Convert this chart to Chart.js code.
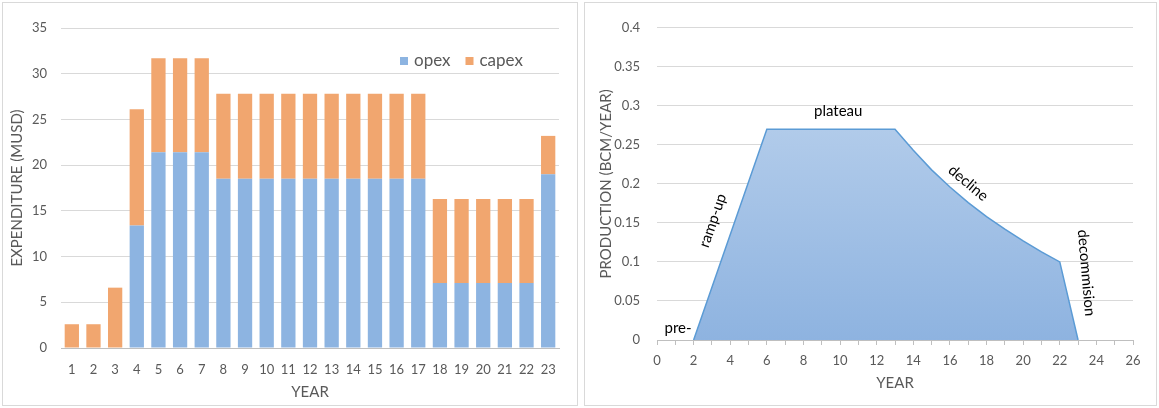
<!DOCTYPE html>
<html>
<head>
<meta charset="utf-8">
<script src="https://cdn.jsdelivr.net/npm/chart.js@4/dist/chart.umd.min.js"></script>
<style>
  html, body { margin: 0; padding: 0; background: #fff; }
  body { width: 1159px; height: 408px; overflow: hidden; position: relative; }
  .panel { position: absolute; top: 2px; height: 402px; border: 1px solid #d9d9d9; }
  #costPanel { left: 2px; width: 574px; }
  #prodPanel { left: 584px; width: 571px; }
  canvas { display: block; }
</style>
</head>
<body>
<div class="panel" id="costPanel"><canvas id="costChart" width="574" height="402"></canvas></div>
<div class="panel" id="prodPanel"><canvas id="prodChart" width="571" height="402"></canvas></div>

<script>
// ---- Expenditure per project year (MUSD) ----
const years = ['1','2','3','4','5','6','7','8','9','10','11','12','13','14','15','16','17','18','19','20','21','22','23'];
const opex  = [0, 0, 0, 13.4, 21.4, 21.4, 21.4, 18.5, 18.5, 18.5, 18.5, 18.5, 18.5, 18.5, 18.5, 18.5, 18.5, 7.1, 7.1, 7.1, 7.1, 7.1, 19.0];
const capex = [2.6, 2.6, 6.6, 12.7, 10.3, 10.3, 10.3, 9.3, 9.3, 9.3, 9.3, 9.3, 9.3, 9.3, 9.3, 9.3, 9.3, 9.2, 9.2, 9.2, 9.2, 9.2, 4.2];
const costTicks = [0, 5, 10, 15, 20, 25, 30, 35];

// ---- Gas production profile (BCM/year) ----
const prodYears  = [2, 6, 13, 14, 15, 16, 17, 18, 19, 20, 21, 22, 23];
const prodValues = [0, 0.27, 0.27, 0.243, 0.218, 0.196, 0.176, 0.158, 0.142, 0.127, 0.113, 0.1, 0];
const prodTicks  = [0, 0.05, 0.1, 0.15, 0.2, 0.25, 0.3, 0.35, 0.4];
const yearTicks  = [0, 2, 4, 6, 8, 10, 12, 14, 16, 18, 20, 22, 24, 26];
const phaseNames = ['pre-', 'ramp-up', 'plateau', 'decline', 'decommision'];

const FONT = 'Lato, "Open Sans", sans-serif';
const GREY_TEXT = '#595959';
const GRID = '#d9d9d9';
const AXIS = '#bfbfbf';

Chart.defaults.font.family = FONT;
Chart.defaults.color = GREY_TEXT;
Chart.defaults.animation = false;

// Legend drawn inside the plot, top right (opex, capex)
const insideLegend = {
  id: 'insideLegend',
  afterDraw(chart) {
    const ctx = chart.ctx;
    ctx.save();
    ctx.font = '17px ' + FONT;
    ctx.textBaseline = 'middle';
    const cy = 58;
    let x = 397;
    const box = 8;
    chart.data.datasets.forEach((ds) => {
      ctx.fillStyle = ds.backgroundColor;
      ctx.fillRect(x, cy - box / 2, box, box);
      x += box + 6;
      ctx.fillStyle = GREY_TEXT;
      ctx.fillText(ds.label, x, cy);
      x += ctx.measureText(ds.label).width + 15;
    });
    ctx.restore();
  }
};

new Chart(document.getElementById('costChart'), {
  type: 'bar',
  data: {
    labels: years,
    datasets: [
      { label: 'opex',  data: opex,  backgroundColor: '#8db4e1' },
      { label: 'capex', data: capex, backgroundColor: '#f1a66f' }
    ]
  },
  options: {
    responsive: false,
    layout: { padding: { top: 25, right: 18, left: 0, bottom: 0 } },
    plugins: { legend: { display: false }, tooltip: { enabled: false } },
    datasets: { bar: { categoryPercentage: 1, barPercentage: 0.66 } },
    scales: {
      x: {
        stacked: true,
        grid: { display: false },
        border: { color: AXIS, width: 1 },
        ticks: { color: GREY_TEXT, font: { size: 13 }, padding: 6, maxRotation: 0, autoSkip: false },
        title: { display: true, text: 'YEAR', color: GREY_TEXT, font: { size: 15 }, padding: { top: 0, bottom: 4 } },
        afterFit(s) { s.height = 57; }
      },
      y: {
        stacked: true,
        min: 0, max: 35,
        afterBuildTicks(s) { s.ticks = costTicks.map(v => ({ value: v })); },
        grid: { color: GRID, drawTicks: false },
        border: { display: false },
        ticks: { color: GREY_TEXT, font: { size: 13 }, padding: 14 },
        title: { display: true, text: 'EXPENDITURE (MUSD)', color: GREY_TEXT, font: { size: 15 }, padding: { top: 5, bottom: 0 } },
        afterFit(s) { s.width = 58; }
      }
    }
  },
  plugins: [insideLegend]
});

// Phase labels placed along the profile, in data coordinates
const phasePlacement = [
  { x: 1.15, y: 0.015, rot: 0 },
  { x: 3.05, y: 0.153, rot: -71 },
  { x: 9.9,  y: 0.293, rot: 0 },
  { x: 17.0, y: 0.201, rot: 40 },
  { x: 23.45, y: 0.086, rot: 85 }
];

const phaseLabels = {
  id: 'phaseLabels',
  afterDatasetsDraw(chart) {
    const ctx = chart.ctx;
    const xs = chart.scales.x, ys = chart.scales.y;
    ctx.save();
    ctx.font = '15px ' + FONT;
    ctx.fillStyle = '#000';
    ctx.textAlign = 'center';
    ctx.textBaseline = 'middle';
    phaseNames.forEach((name, i) => {
      const p = phasePlacement[i];
      ctx.save();
      ctx.translate(xs.getPixelForValue(p.x), ys.getPixelForValue(p.y));
      ctx.rotate(p.rot * Math.PI / 180);
      ctx.fillText(name, 0, 0);
      ctx.restore();
    });
    ctx.restore();
  }
};

new Chart(document.getElementById('prodChart'), {
  type: 'line',
  data: {
    datasets: [{
      label: 'production',
      data: prodYears.map((x, i) => ({ x, y: prodValues[i] })),
      borderColor: '#5b9bd5',
      borderWidth: 1.5,
      pointRadius: 0,
      tension: 0,
      fill: 'origin',
      backgroundColor(ctx) {
        const area = ctx.chart.chartArea;
        if (!area) return '#a4c2e6';
        const ys = ctx.chart.scales.y;
        const g = ctx.chart.ctx.createLinearGradient(0, ys.getPixelForValue(0.27), 0, area.bottom);
        g.addColorStop(0, '#b1cbea');
        g.addColorStop(1, '#8eb3e0');
        return g;
      }
    }]
  },
  options: {
    responsive: false,
    layout: { padding: { top: 19, right: 23, left: 0, bottom: 0 } },
    plugins: { legend: { display: false }, tooltip: { enabled: false } },
    scales: {
      x: {
        type: 'linear',
        min: 0, max: 26,
        afterBuildTicks(s) {
          const t = [];
          for (let v = 0; v <= 26; v++) t.push({ value: v });
          s.ticks = t;
        },
        grid: { drawOnChartArea: false, drawTicks: true, tickLength: 5, color: AXIS },
        border: { color: AXIS, width: 1 },
        ticks: {
          color: GREY_TEXT, font: { size: 13 }, padding: 8, maxRotation: 0, autoSkip: false,
          callback: (v) => yearTicks.includes(v) ? String(v) : ''
        },
        title: { display: true, text: 'YEAR', color: GREY_TEXT, font: { size: 15 }, padding: { top: 0, bottom: 13 } },
        afterFit(s) { s.height = 65; }
      },
      y: {
        min: 0, max: 0.4,
        afterBuildTicks(s) { s.ticks = prodTicks.map(v => ({ value: v })); },
        grid: { color: GRID, drawTicks: false },
        border: { display: false },
        ticks: { color: GREY_TEXT, font: { size: 13 }, padding: 17, callback: (v) => String(+v.toFixed(2)) },
        title: { display: true, text: 'PRODUCTION (BCM/YEAR)', color: GREY_TEXT, font: { size: 15 }, padding: { top: 12, bottom: 0 } },
        afterFit(s) { s.width = 72; }
      }
    }
  },
  plugins: [phaseLabels]
});
</script>
</body>
</html>
